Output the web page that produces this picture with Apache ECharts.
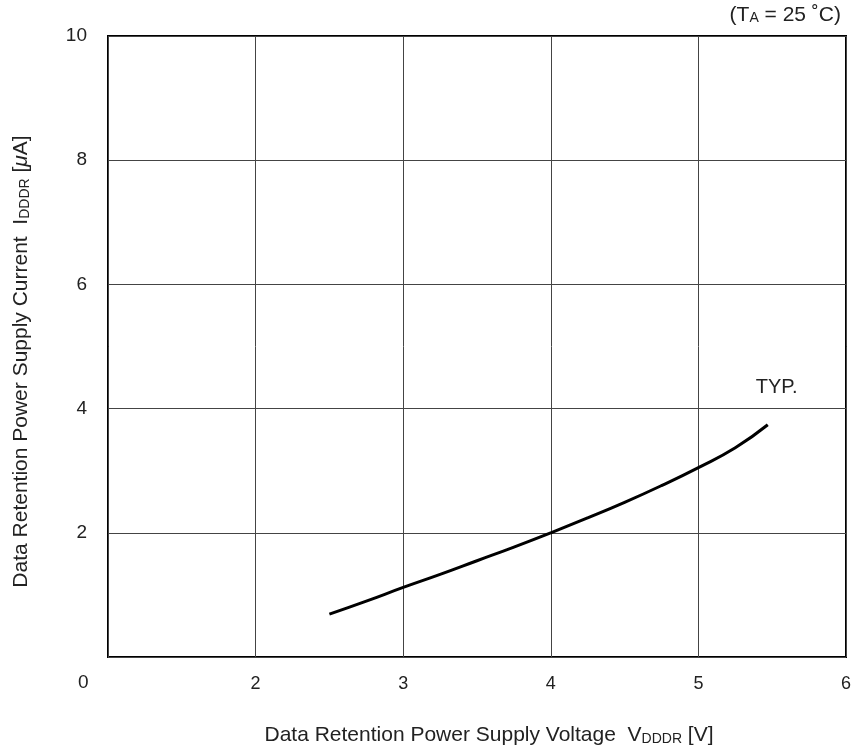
<!DOCTYPE html>
<html>
<head>
<meta charset="utf-8">
<script src="https://cdn.jsdelivr.net/npm/echarts@6/dist/echarts.min.js"></script>
<style>
  html, body { margin: 0; padding: 0; background: #fff; }
  #chart { width: 859px; height: 755px; }
</style>
</head>
<body>
<div id="chart"></div>
<script>
// supply voltage [V] and typical data retention current [uA]
const voltage = [2.5, 2.75, 3.0, 3.25, 3.5, 3.75, 4.0, 4.25, 4.5, 4.75, 5.0, 5.25, 5.47];
const current = [0.69, 0.90, 1.12, 1.33, 1.55, 1.77, 2.0, 2.24, 2.49, 2.76, 3.05, 3.37, 3.74];
const xTicks = [2, 3, 4, 5, 6];
const yTicks = [2, 4, 6, 8, 10];

const font = 'Liberation Sans, Arial, sans-serif';
const chart = echarts.init(document.getElementById('chart'));

const option = {
    animation: false,
    grid: {
        left: 108, right: 13, top: 36, bottom: 98,
        show: true, borderColor: '#000', borderWidth: 2
    },
    xAxis: {
        type: 'value', min: 1, max: 6, interval: 1,
        axisLine: { show: false },
        axisTick: { show: false },
        splitLine: { lineStyle: { color: '#444', width: 1 } },
        axisLabel: {
            margin: 18, fontSize: 18, color: '#222', fontFamily: font,
            formatter: v => (xTicks.indexOf(v) >= 0 ? String(v) : '')
        },
        name: 'Data Retention Power Supply Voltage  V{s|DDDR} [V]',
        nameLocation: 'middle', nameGap: 68,
        nameTextStyle: {
            fontSize: 21, color: '#222', fontFamily: font, padding: [0, 0, 0, 24],
            rich: { s: { fontSize: 14, color: '#222', fontFamily: font, padding: [7, 0, 0, 0] } }
        }
    },
    yAxis: {
        type: 'value', min: 0, max: 10, interval: 2,
        axisLine: { show: false },
        axisTick: { show: false },
        splitLine: { lineStyle: { color: '#444', width: 1 } },
        axisLabel: {
            margin: 21, fontSize: 19, color: '#222', fontFamily: font,
            formatter: v => (yTicks.indexOf(v) >= 0 ? String(v) : '')
        },
        name: 'Data Retention Power Supply Current  I{s|DDDR} [{m|μ}A]',
        nameLocation: 'middle', nameRotate: 90, nameGap: 76,
        nameTextStyle: {
            fontSize: 21, color: '#222', fontFamily: font, padding: [0, 30, 0, 0],
            rich: {
                s: { fontSize: 14, color: '#222', fontFamily: font, padding: [7, 0, 0, 0] },
                m: { fontSize: 21, color: '#222', fontFamily: font, fontStyle: 'italic' }
            }
        }
    },
    graphic: [
        {
            type: 'text', left: 78, top: 673,
            style: { text: '0', fontSize: 19, fill: '#222', fontFamily: font }
        },
        {
            type: 'text', right: 18, top: 5,
            style: {
                text: '(T{s|A} = 25 ˚C)', fontSize: 21, fill: '#222', fontFamily: font,
                rich: { s: { fontSize: 14, fill: '#222', fontFamily: font, padding: [5, 0, 0, 0] } }
            }
        }
    ],
    series: [
        {
            name: 'TYP.',
            type: 'line',
            data: voltage.map((v, i) => [v, current[i]]),
            smooth: true,
            symbol: 'none',
            lineStyle: { color: '#000', width: 3 },
            endLabel: {
                show: true, formatter: 'TYP.', fontSize: 20, color: '#222', fontFamily: font,
                offset: [-20, -37]
            }
        }
    ]
};

function init() {
    chart.setOption(option);
    window.addEventListener('resize', function () {
        chart.resize();
    });
}

init();
</script>
</body>
</html>
